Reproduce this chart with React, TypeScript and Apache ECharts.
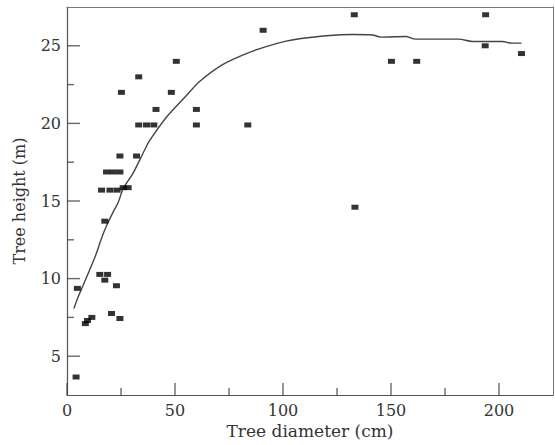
import React, { useEffect, useRef } from "react";
import * as echarts from "echarts";

// Observed trees: diameter (cm) and height (m)
const treeDiameter = [
  4.2, 4.8, 8.5, 9.5, 11.5, 15.2, 17.5, 18.8, 20.6, 22.9, 24.5, 17.5,
  16.0, 19.9, 23.2, 26.0, 28.3, 18.3, 21.4, 24.5, 24.5, 32.2, 33.2, 36.8,
  40.2, 41.2, 25.2, 33.2, 48.3, 50.6, 59.9, 59.9, 83.7, 90.8, 133.0, 133.3,
  150.2, 161.9, 193.6, 193.8, 210.4,
];
const treeHeight = [
  3.66, 9.37, 7.1, 7.3, 7.5, 10.27, 9.9, 10.27, 7.75, 9.54, 7.43, 13.7,
  15.7, 15.7, 15.7, 15.86, 15.86, 16.87, 16.87, 16.87, 17.9, 17.9, 19.9, 19.9,
  19.9, 20.9, 22.0, 23.0, 22.0, 24.0, 20.9, 19.9, 19.9, 26.0, 27.0, 14.6,
  24.0, 24.0, 25.0, 27.0, 24.5,
];

// Smoothed fit curve
const fitDiameter = [
  3.2, 5.2, 9.1, 13, 16, 18.3, 21.4, 23.7, 26, 30.6, 36, 38.3, 46, 55.3, 61.4,
  72.2, 83, 92.2, 101.4, 107.6, 120, 132.2, 141.4, 145.3, 156.8, 161.4, 181.4,
  187.6, 201.4, 206, 210.4,
];
const fitHeight = [
  8.08, 8.83, 10.1, 11.4, 12.6, 13.4, 14.3, 14.9, 15.8, 16.8, 18.3, 18.9, 20.4,
  21.8, 22.7, 23.8, 24.5, 24.95, 25.3, 25.45, 25.65, 25.73, 25.7, 25.56, 25.6,
  25.43, 25.43, 25.28, 25.28, 25.17, 25.17,
];

// Ticks and tick labels
const xTicks = [0, 50, 100, 150, 200];
const xMinorTicks = [25, 75, 125, 175];
const yTicks = [5, 10, 15, 20, 25];
const yMinorTicks = [7.5, 12.5, 17.5, 22.5];

const X_MIN = 0;
const X_MAX = 225;
const Y_MIN = 2.5;
const Y_MAX = 27.5;

const FONT = "DejaVu Serif";
const TEXT = "#333";
const AXIS = "#555";

const MAJOR_LEN = 12;
const MINOR_LEN = 7;
const TICK_W = 1.4;

// tick marks drawn as thin rect markers anchored on the axis line
function tickSeries(values: number[], dir: "x" | "y", len: number) {
  return {
    type: "scatter",
    xAxisIndex: 0,
    yAxisIndex: 0,
    silent: true,
    clip: false,
    z: 6,
    symbol: "rect",
    symbolSize: dir === "x" ? [TICK_W, len] : [len, TICK_W],
    symbolOffset: dir === "x" ? [0, -len / 2] : [len / 2, 0],
    itemStyle: { color: "#444" },
    emphasis: { disabled: true },
    data: values.map((v) => (dir === "x" ? [v, Y_MIN] : [X_MIN, v])),
  };
}

export default function App() {
  const ref = useRef<HTMLDivElement>(null);

  useEffect(() => {
    if (!ref.current) return;
    const chart = echarts.init(ref.current, undefined, { renderer: "svg" });

    const points = treeDiameter.map((d, i) => [d, treeHeight[i]]);
    const fit = fitDiameter.map((d, i) => [d, fitHeight[i]]);

    const borderAxis = {
      type: "value",
      axisLine: { show: true, onZero: false, lineStyle: { color: "#777", width: 1 } },
      axisTick: { show: false },
      axisLabel: { show: false },
      splitLine: { show: false },
    };

    chart.setOption({
      animation: false,
      backgroundColor: "#fff",
      grid: { left: 67, right: 2, top: 7, bottom: 50, show: false },
      xAxis: [
        {
          type: "value",
          min: X_MIN,
          max: X_MAX,
          position: "bottom",
          name: "Tree diameter (cm)",
          nameLocation: "middle",
          nameGap: 26,
          nameTextStyle: { fontFamily: FONT, fontSize: 17, color: TEXT },
          axisLine: { show: true, onZero: false, lineStyle: { color: AXIS, width: 1.2 } },
          axisTick: { show: false },
          axisLabel: {
            customValues: xTicks,
            margin: 7,
            fontFamily: FONT,
            fontSize: 16,
            color: TEXT,
          },
          splitLine: { show: false },
        },
        { ...borderAxis, min: X_MIN, max: X_MAX, position: "top" },
      ],
      yAxis: [
        {
          type: "value",
          min: Y_MIN,
          max: Y_MAX,
          position: "left",
          name: "Tree height (m)",
          nameLocation: "middle",
          nameGap: 40,
          nameTextStyle: { fontFamily: FONT, fontSize: 16, color: TEXT },
          axisLine: { show: true, onZero: false, lineStyle: { color: AXIS, width: 1.2 } },
          axisTick: { show: false },
          axisLabel: {
            customValues: yTicks,
            margin: 6,
            fontFamily: FONT,
            fontSize: 16,
            color: TEXT,
          },
          splitLine: { show: false },
        },
        { ...borderAxis, min: Y_MIN, max: Y_MAX, position: "right" },
      ],
      series: [
        {
          type: "line",
          data: fit,
          xAxisIndex: 0,
          yAxisIndex: 0,
          showSymbol: false,
          symbol: "none",
          smooth: 0.3,
          lineStyle: { color: "#444", width: 1.4 },
          z: 2,
        },
        {
          type: "scatter",
          data: points,
          xAxisIndex: 0,
          yAxisIndex: 0,
          symbol: "rect",
          symbolSize: [7, 5],
          itemStyle: { color: "#000" },
          z: 3,
        },
        tickSeries(xTicks, "x", MAJOR_LEN),
        tickSeries(xMinorTicks, "x", MINOR_LEN),
        tickSeries(yTicks, "y", MAJOR_LEN + 1),
        tickSeries(yMinorTicks, "y", MINOR_LEN),
      ],
    });

    return () => chart.dispose();
  }, []);

  return (
    <div
      ref={ref}
      style={{ position: "absolute", left: 0, top: 0, width: 555, height: 445 }}
    />
  );
}
